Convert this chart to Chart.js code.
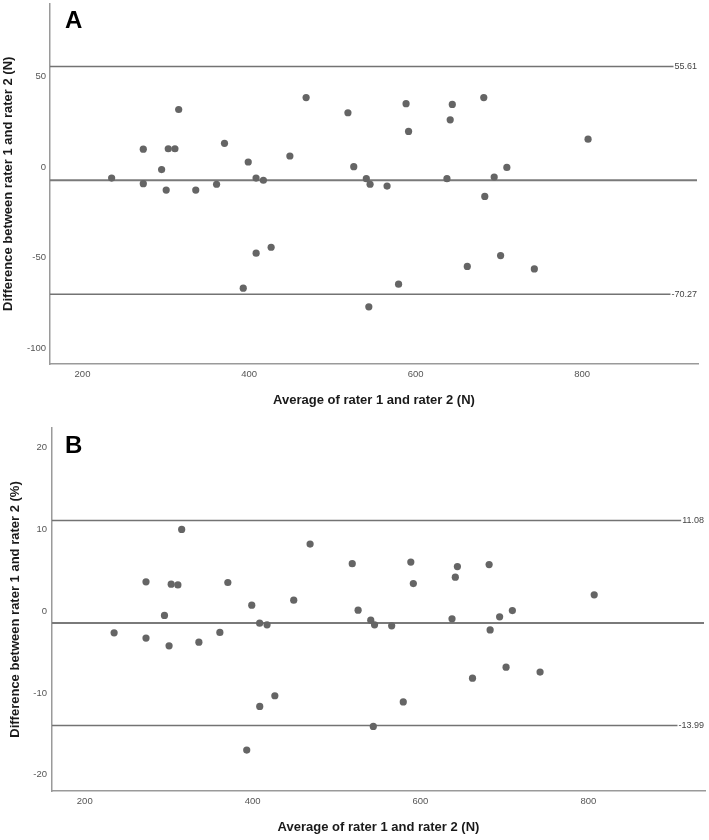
<!DOCTYPE html>
<html><head><meta charset="utf-8">
<script src="https://cdn.jsdelivr.net/npm/chart.js@4.4.1/dist/chart.umd.min.js"></script>
<style>html,body{margin:0;padding:0;background:#fff;} canvas{position:absolute;left:0;}</style>
</head><body>
<canvas id="cA" width="709" height="420" style="top:0"></canvas>
<canvas id="cB" width="709" height="420" style="top:420px"></canvas>
<script>
// ---- data ----
const avg = [235, 273, 273, 295, 300.5, 303, 311, 315.5, 336, 361, 370.5, 393, 399, 408.4, 408.5, 417.2, 426.5, 449, 468.5, 518.7, 525.7, 540.8, 543.8, 545.3, 565.7, 579.5, 588.5, 591.5, 637.6, 641.5, 644, 662, 681.8, 683, 694.3, 702, 709.5, 742.5, 807];
const diffN = [-6.1, 9.9, -9.2, -1.4, -12.7, 10.1, 10.1, 31.8, -12.7, -9.5, 13.1, -66.9, 2.8, -6.1, -47.6, -7.3, -44.3, 6.1, 38.4, 30.0, 0.2, -6.4, -77.2, -9.5, -10.5, -64.7, 35.0, 19.7, -6.4, 26.1, 34.6, -54.9, 38.4, -16.2, -5.5, -48.9, -0.2, -56.3, 15.4];
const diffPct = [-2.65, 3.58, -3.3, -0.53, -4.24, 3.3, 3.2, 10.0, -3.8, -2.6, 3.5, -17.0, 0.73, -1.47, -11.66, -1.67, -10.35, 1.34, 8.2, 5.8, 0.12, -1.1, -14.1, -1.67, -1.8, -11.1, 6.0, 3.37, -0.94, 4.15, 5.45, -8.2, 5.7, -2.3, -0.7, -6.85, 0.07, -7.45, 2.0];
const xTicks = [200, 400, 600, 800];
const yTicksA = [-100, -50, 0, 50];
const yTicksB = [-20, -10, 0, 10, 20];
const limitsA = [55.61, -70.27];
const meanA = -7.33;
const limitsB = [11.08, -13.99];
const meanB = -1.455;
const xTitle = 'Average of rater 1 and rater 2 (N)';
const yTitleA = 'Difference between rater 1 and rater 2 (N)';
const yTitleB = 'Difference between rater 1 and rater 2 (%)';

const FAM = "'Liberation Sans', Arial, sans-serif";

const refLines = {
  id: 'refLines',
  beforeDatasetsDraw(chart, args, opts) {
    const {ctx, chartArea: {left, right}, scales: {y}} = chart;
    ctx.save();
    ctx.strokeStyle = '#7a7a7a';
    ctx.lineWidth = 2;
    const ym = y.getPixelForValue(opts.mean);
    ctx.beginPath(); ctx.moveTo(left, ym); ctx.lineTo(right - 1, ym); ctx.stroke();
    ctx.lineWidth = 1.5;
    ctx.strokeStyle = '#737373';
    ctx.font = '9px ' + FAM;
    ctx.fillStyle = '#444';
    ctx.textAlign = 'right';
    ctx.textBaseline = 'middle';
    opts.limits.forEach(v => {
      const py = y.getPixelForValue(v);
      const t = v.toFixed(2);
      const w = ctx.measureText(t).width;
      ctx.beginPath(); ctx.moveTo(left, py); ctx.lineTo(right - 1 - w - 1, py); ctx.stroke();
      ctx.fillText(t, right - 1, py);
    });
    ctx.restore();
  }
};
const panelLetter = {
  id: 'panelLetter',
  afterDraw(chart, args, opts) {
    const {ctx} = chart;
    ctx.save();
    ctx.font = 'bold 24px ' + FAM;
    ctx.fillStyle = '#000';
    ctx.textAlign = 'left';
    ctx.textBaseline = 'alphabetic';
    ctx.fillText(opts.letter, opts.x, opts.y);
    ctx.restore();
  }
};

function noPad(s) { s.paddingTop = 0; s.paddingBottom = 0; s.paddingLeft = 0; s.paddingRight = 0; }

function makeChart(id, yVals, cfg) {
  return new Chart(document.getElementById(id), {
    type: 'scatter',
    data: { datasets: [{
      data: avg.map((x, i) => ({x, y: yVals[i]})),
      pointRadius: 3.6,
      pointBackgroundColor: '#656565',
      pointBorderWidth: 0,
      pointHoverRadius: 3.6
    }]},
    options: {
      responsive: false,
      animation: false,
      events: [],
      layout: { padding: cfg.padding },
      plugins: {
        legend: {display: false},
        tooltip: {enabled: false},
        refLines: {mean: cfg.mean, limits: cfg.limits},
        panelLetter: {letter: cfg.letter, x: 65, y: cfg.letterY}
      },
      scales: {
        x: {
          type: 'linear', min: 161, max: 939,
          afterBuildTicks: s => { s.ticks = xTicks.map(v => ({value: v})); },
          afterFit: s => { s.height = cfg.xH; noPad(s); },
          grid: {display: false, drawTicks: false},
          border: {display: true, color: '#9a9a9a', width: 1.5},
          ticks: {font: {size: 9.5, family: FAM}, color: '#555', padding: 5, maxRotation: 0, autoSkip: false},
          title: {display: true, text: xTitle, font: {size: 13, weight: 'bold', family: FAM}, color: '#1a1a1a', padding: {top: 0, bottom: cfg.xTitlePad}}
        },
        y: {
          type: 'linear', min: cfg.ymin, max: cfg.ymax,
          afterBuildTicks: s => { s.ticks = cfg.yTicks.map(v => ({value: v})); },
          afterFit: s => { s.width = cfg.yW; noPad(s); },
          grid: {display: false, drawTicks: false},
          border: {display: true, color: '#9a9a9a', width: 1.5},
          ticks: {font: {size: 9.5, family: FAM}, color: '#555', padding: cfg.yTickPad},
          title: {display: true, text: cfg.yTitle, font: {size: 13, weight: 'bold', family: FAM}, color: '#1a1a1a', padding: {top: cfg.yTitlePad, bottom: 0}}
        }
      }
    },
    plugins: [refLines, panelLetter]
  });
}

makeChart('cA', diffN, {
  padding: {top: 3, right: 11, bottom: 0, left: 0},
  mean: meanA, limits: limitsA, letter: 'A', letterY: 28,
  xH: 56, yW: 50, xTitlePad: 11.5, yTitlePad: 0.5, yTickPad: 4,
  ymin: -108.8, ymax: 90.3, yTicks: yTicksA, yTitle: yTitleA
});
makeChart('cB', diffPct, {
  padding: {top: 8, right: 4, bottom: 0, left: 0},
  mean: meanB, limits: limitsB, letter: 'B', letterY: 33,
  xH: 49, yW: 52, xTitlePad: 5.2, yTitlePad: 8, yTickPad: 5,
  ymin: -22, ymax: 22.4, yTicks: yTicksB, yTitle: yTitleB
});
</script>
</body></html>
